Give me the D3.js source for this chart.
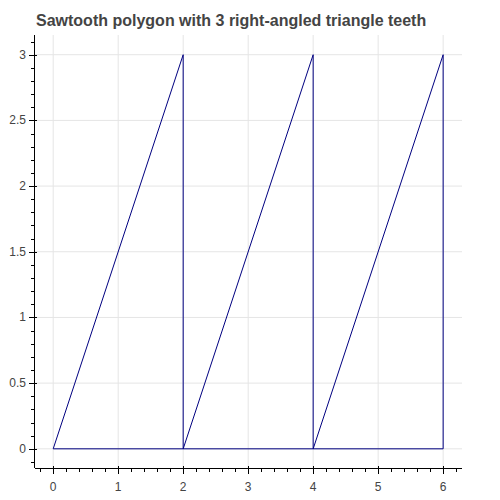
<!DOCTYPE html>
<html><head><meta charset="utf-8">
<script src="https://cdn.jsdelivr.net/npm/d3@7"></script>
<style>body{margin:0;background:#fff}</style>
</head><body>
<script>
const xs = [0, 2, 2, 4, 4, 6, 6, 0];
const ys = [0, 3, 0, 3, 0, 3, 0, 0];
const xTicks = [0, 1, 2, 3, 4, 5, 6];
const yTicks = [0, 0.5, 1, 1.5, 2, 2.5, 3];
const title = "Sawtooth polygon with 3 right-angled triangle teeth";

const W = 500, H = 500;
const L = 35, R = 462, T = 35, B = 468;
const x = d3.scaleLinear().domain([-0.28, 6.29]).range([L, R]);
const y = d3.scaleLinear().domain([-0.146, 3.15]).range([B, T]);

const svg = d3.select("body").append("svg").attr("width", W).attr("height", H)
  .style("font-family", "Helvetica, Arial, sans-serif");

svg.append("text").attr("x", L + 1).attr("y", 26)
  .attr("font-size", 16).attr("font-weight", "bold").attr("fill", "#444")
  .text(title);

const grid = svg.append("g").attr("stroke", "#e5e5e5");
grid.selectAll(".gx").data(xTicks).join("line")
  .attr("x1", d => x(d)).attr("x2", d => x(d)).attr("y1", T).attr("y2", B);
grid.selectAll(".gy").data(yTicks).join("line")
  .attr("y1", d => y(d)).attr("y2", d => y(d)).attr("x1", L).attr("x2", R);

svg.append("path")
  .attr("d", d3.line().x((d, i) => x(xs[i])).y((d, i) => y(ys[i]))(xs) + "Z")
  .attr("fill", "none").attr("stroke", "navy").attr("stroke-width", 1);

// axes, bokeh style
const ax = svg.append("g").attr("stroke", "#000");
ax.append("line").attr("x1", L).attr("x2", R).attr("y1", B + 0.5).attr("y2", B + 0.5);
ax.append("line").attr("x1", L - 0.5).attr("x2", L - 0.5).attr("y1", T).attr("y2", B);

const xMinor = d3.range(-0.2, 6.3, 0.2).filter(v => x(v) >= L && x(v) <= R);
ax.selectAll(".mx").data(xMinor).join("line")
  .attr("x1", d => Math.round(x(d)) + 0.5).attr("x2", d => Math.round(x(d)) + 0.5)
  .attr("y1", B).attr("y2", B + 4);
ax.selectAll(".Mx").data(xTicks).join("line")
  .attr("x1", d => Math.round(x(d)) + 0.5).attr("x2", d => Math.round(x(d)) + 0.5)
  .attr("y1", B - 2).attr("y2", B + 6);

const yMinor = d3.range(-0.1, 3.15, 0.1).filter(v => y(v) >= T && y(v) <= B);
ax.selectAll(".my").data(yMinor).join("line")
  .attr("y1", d => Math.round(y(d)) + 0.5).attr("y2", d => Math.round(y(d)) + 0.5)
  .attr("x1", L - 4).attr("x2", L);
ax.selectAll(".My").data(yTicks).join("line")
  .attr("y1", d => Math.round(y(d)) + 0.5).attr("y2", d => Math.round(y(d)) + 0.5)
  .attr("x1", L - 6).attr("x2", L + 2);

svg.selectAll(".lx").data(xTicks).join("text")
  .attr("x", d => x(d)).attr("y", B + 23).attr("text-anchor", "middle")
  .attr("font-size", 12).attr("fill", "#444").text(d => d);
svg.selectAll(".ly").data(yTicks).join("text")
  .attr("x", L - 9).attr("y", d => y(d) + 4).attr("text-anchor", "end")
  .attr("font-size", 12).attr("fill", "#444").text(d => d);
</script>
</body></html>
